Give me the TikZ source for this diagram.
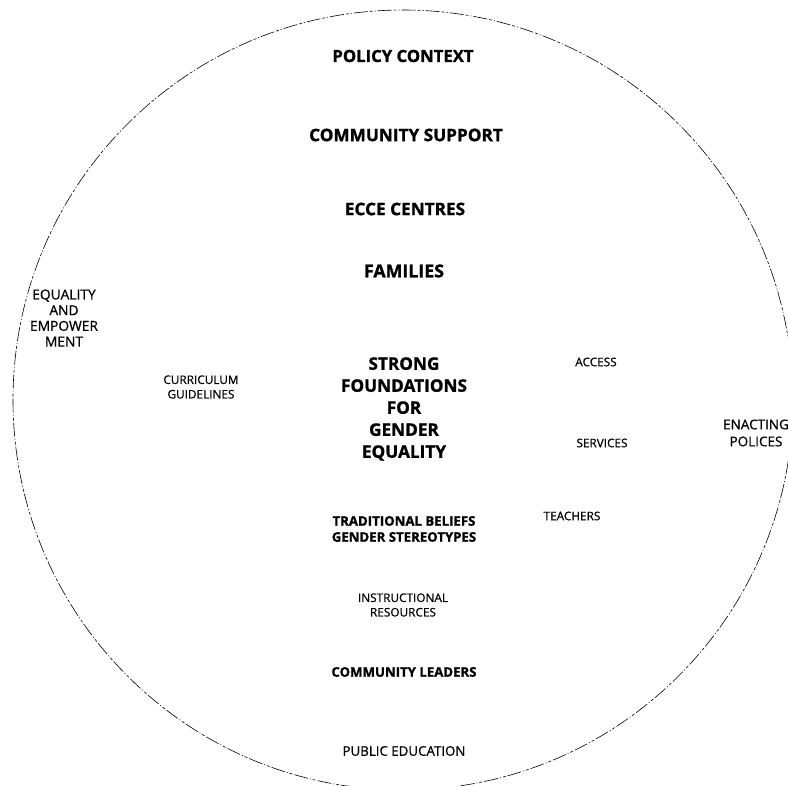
\documentclass[tikz,border=0pt]{standalone}
\usepackage{fontspec}
\setmainfont{Open Sans}
\newfontfamily\regfont[FakeBold=0.7]{Open Sans}
\newfontfamily\boldfont[BoldFeatures={FakeBold=1.2}]{Open Sans}
\begin{document}
\begin{tikzpicture}[x=1pt,y=-1pt,
  lbl/.style={inner sep=0pt,align=center,text=black},
  big/.style={lbl,font=\boldfont\bfseries\fontsize{17.2}{22}\selectfont},
  mid/.style={lbl,font=\boldfont\bfseries\fontsize{13.2}{16}\selectfont},
  small/.style={lbl,font=\regfont\fontsize{11.8}{14.5}\selectfont},
  ring/.style={draw=black,line width=0.6pt,dash pattern=on 14pt off 2pt on 1pt off 2pt on 3pt off 2pt}]
\useasboundingbox (0,0) rectangle (788,786);
\fill[white] (0,0) rectangle (788,786);
\draw[ring] (403,400) circle [radius=390pt];
\node[big,font=\boldfont\bfseries\fontsize{16.7}{20}\selectfont] (policy) at (403,56) {POLICY CONTEXT};
\node[big] (commsup) at (406,135) {COMMUNITY SUPPORT};
\node[big] (ecce) at (405,209) {ECCE CENTRES};
\node[big,font=\boldfont\bfseries\fontsize{17.8}{20}\selectfont] (fam) at (404,271) {FAMILIES};
\node[big] (strong) at (404,409) {STRONG\\FOUNDATIONS\\FOR\\GENDER\\EQUALITY};
\node[mid] (trad) at (404,529) {TRADITIONAL BELIEFS\\GENDER STEREOTYPES};
\node[small] (instr) at (403,605) {INSTRUCTIONAL\\RESOURCES};
\node[mid] (leaders) at (404,672) {COMMUNITY LEADERS};
\node[small,font=\regfont\fontsize{13.3}{15}\selectfont] (pubed) at (404,751) {PUBLIC EDUCATION};
\node[small,font=\regfont\fontsize{13.8}{15.7}\selectfont] (equal) at (64,318) {EQUALITY\\AND\\EMPOWER\\MENT};
\node[small] (curric) at (201,387) {CURRICULUM\\GUIDELINES};
\node[small] (access) at (596,362) {ACCESS};
\node[small] (serv) at (602,443) {SERVICES};
\node[small] (teach) at (572,516) {TEACHERS};
\node[small,font=\regfont\fontsize{13.5}{17}\selectfont,fill=white,inner sep=2pt] (enact) at (756,433) {ENACTING\\POLICES};
\end{tikzpicture}
\end{document}
